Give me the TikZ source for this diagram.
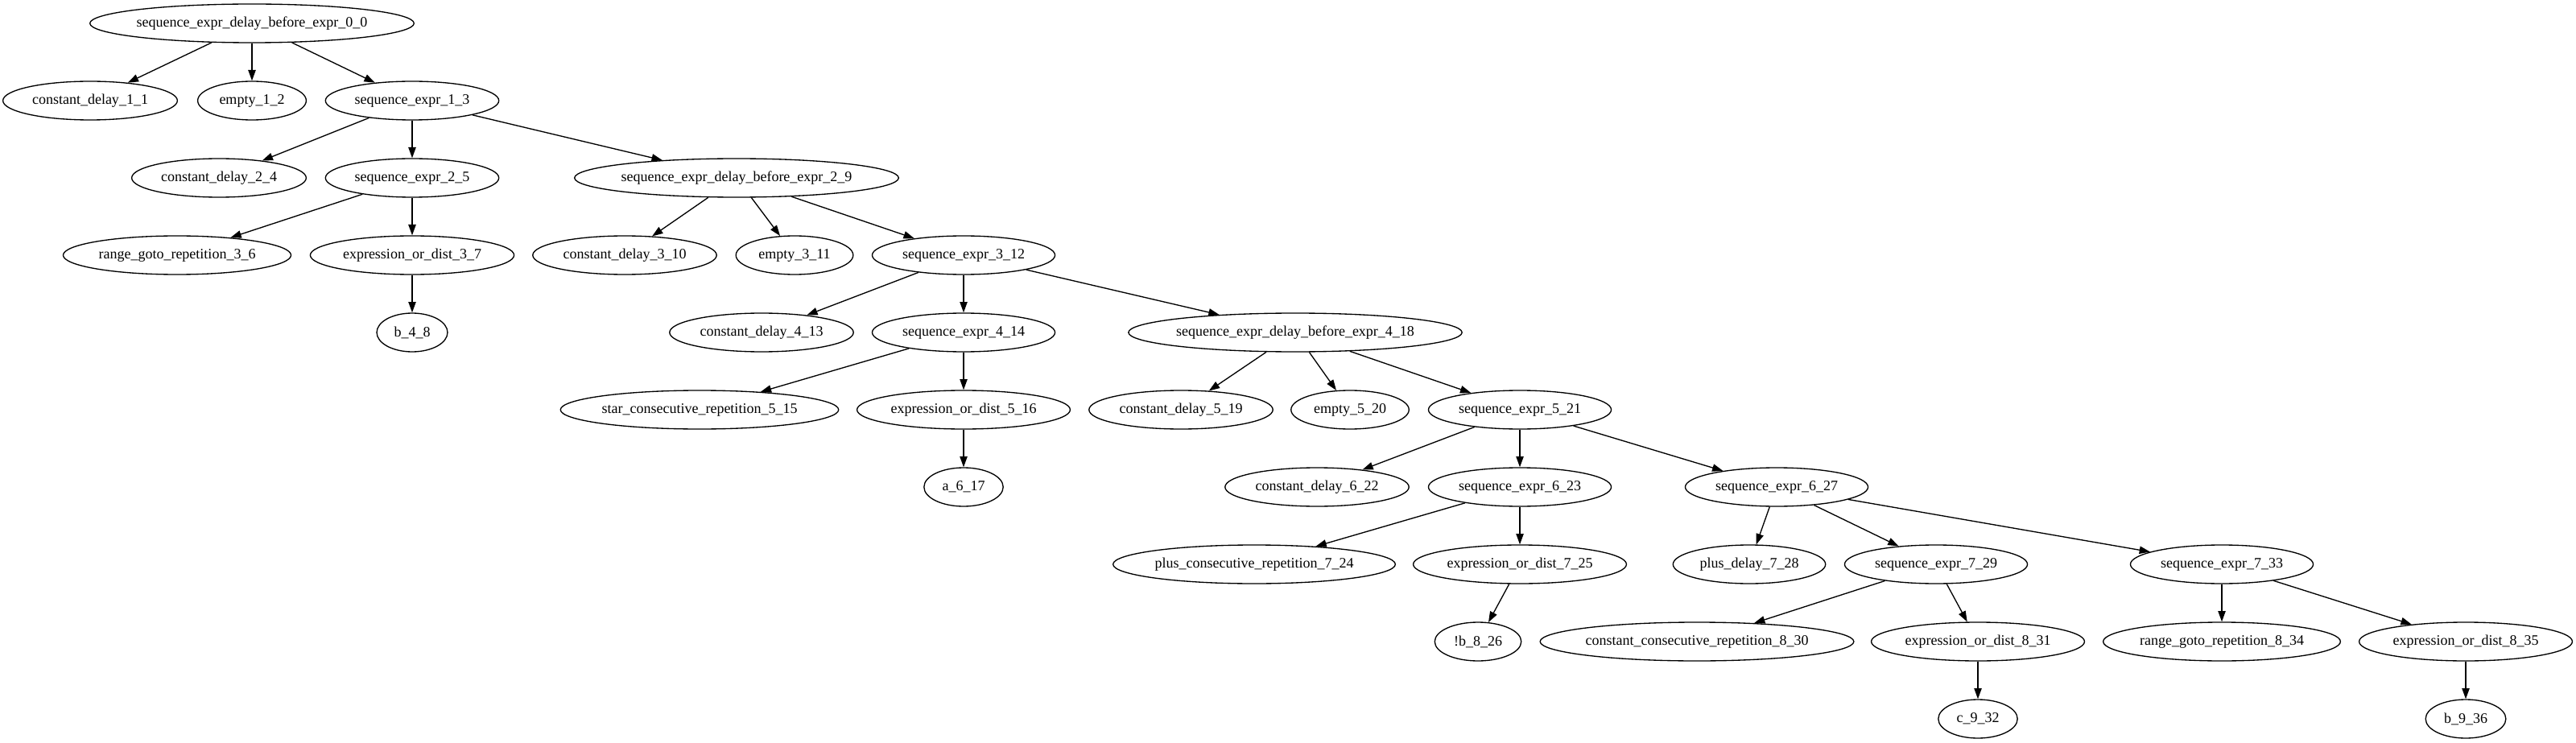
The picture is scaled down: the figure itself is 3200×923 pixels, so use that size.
\documentclass[tikz,border=0pt]{standalone}
\usepackage{fontspec}
\setmainfont{Liberation Serif}
\usetikzlibrary{arrows.meta,shapes.geometric}

\tikzset{
  treenode/.style={draw, ellipse, line width=1pt, inner xsep=7.8pt, inner ysep=3pt,
    minimum height=36pt, font=\fontsize{13.5pt}{16pt}\selectfont,
    execute at begin node={\setbox0\hbox\bgroup},
    execute at end node={\egroup\hbox to .92\wd0{\hss\box0\hss}}},
  edge/.style={line width=1pt, -{Triangle[length=10pt,width=7pt]}}
}

\begin{document}
\begin{tikzpicture}[x=0.75pt, y=-0.75pt]
            \useasboundingbox (0,0) rectangle (3200,923);

            % level 0 - 2
            \node[treenode] (n0) at (313,29) {sequence\_expr\_delay\_before\_expr\_0\_0};
            \node[treenode] (n1) at (112,125) {constant\_delay\_1\_1};
            \node[treenode] (n2) at (313,125) {empty\_1\_2};
            \node[treenode] (n3) at (512,125) {sequence\_expr\_1\_3};
            \node[treenode] (n4) at (272,221) {constant\_delay\_2\_4};
            \node[treenode] (n5) at (512,221) {sequence\_expr\_2\_5};
            \node[treenode] (n9) at (915,221) {sequence\_expr\_delay\_before\_expr\_2\_9};

            % level 3 - 5
            \node[treenode] (n6) at (220,317) {range\_goto\_repetition\_3\_6};
            \node[treenode] (n7) at (512,317) {expression\_or\_dist\_3\_7};
            \node[treenode] (n10) at (776,317) {constant\_delay\_3\_10};
            \node[treenode] (n11) at (987,317) {empty\_3\_11};
            \node[treenode] (n12) at (1197,317) {sequence\_expr\_3\_12};
            \node[treenode] (n8) at (512,413) {b\_4\_8};
            \node[treenode] (n13) at (946,413) {constant\_delay\_4\_13};
            \node[treenode] (n14) at (1197,413) {sequence\_expr\_4\_14};
            \node[treenode] (n18) at (1609,413) {sequence\_expr\_delay\_before\_expr\_4\_18};
            \node[treenode] (n15) at (869,509) {star\_consecutive\_repetition\_5\_15};
            \node[treenode] (n16) at (1197,509) {expression\_or\_dist\_5\_16};
            \node[treenode] (n19) at (1467,509) {constant\_delay\_5\_19};
            \node[treenode] (n20) at (1677,509) {empty\_5\_20};
            \node[treenode] (n21) at (1888,509) {sequence\_expr\_5\_21};

            % level 6 - 9
            \node[treenode] (n17) at (1197,605) {a\_6\_17};
            \node[treenode] (n22) at (1636,605) {constant\_delay\_6\_22};
            \node[treenode] (n23) at (1888,605) {sequence\_expr\_6\_23};
            \node[treenode] (n27) at (2207,605) {sequence\_expr\_6\_27};
            \node[treenode] (n24) at (1558,701) {plus\_consecutive\_repetition\_7\_24};
            \node[treenode] (n25) at (1888,701) {expression\_or\_dist\_7\_25};
            \node[treenode] (n28) at (2173,701) {plus\_delay\_7\_28};
            \node[treenode] (n29) at (2405,701) {sequence\_expr\_7\_29};
            \node[treenode] (n33) at (2760,701) {sequence\_expr\_7\_33};
            \node[treenode] (n26) at (1836,797) {!b\_8\_26};
            \node[treenode] (n30) at (2108,797) {constant\_consecutive\_repetition\_8\_30};
            \node[treenode] (n31) at (2457,797) {expression\_or\_dist\_8\_31};
            \node[treenode] (n34) at (2760,797) {range\_goto\_repetition\_8\_34};
            \node[treenode] (n35) at (3063,797) {expression\_or\_dist\_8\_35};
            \node[treenode] (n32) at (2457,893) {c\_9\_32};
            \node[treenode] (n36) at (3063,893) {b\_9\_36};

            \foreach \a/\b in {0/1, 0/2, 0/3, 3/4, 3/5, 3/9, 5/6, 5/7, 7/8,
                               9/10, 9/11, 9/12, 12/13, 12/14, 12/18, 14/15, 14/16, 16/17,
                               18/19, 18/20, 18/21, 21/22, 21/23, 21/27, 23/24, 23/25, 25/26,
                               27/28, 27/29, 27/33, 29/30, 29/31, 31/32, 33/34, 33/35, 35/36}
            {
              \draw[edge] (n\a) -- (n\b);
            }
            \end{tikzpicture}
\end{document}
